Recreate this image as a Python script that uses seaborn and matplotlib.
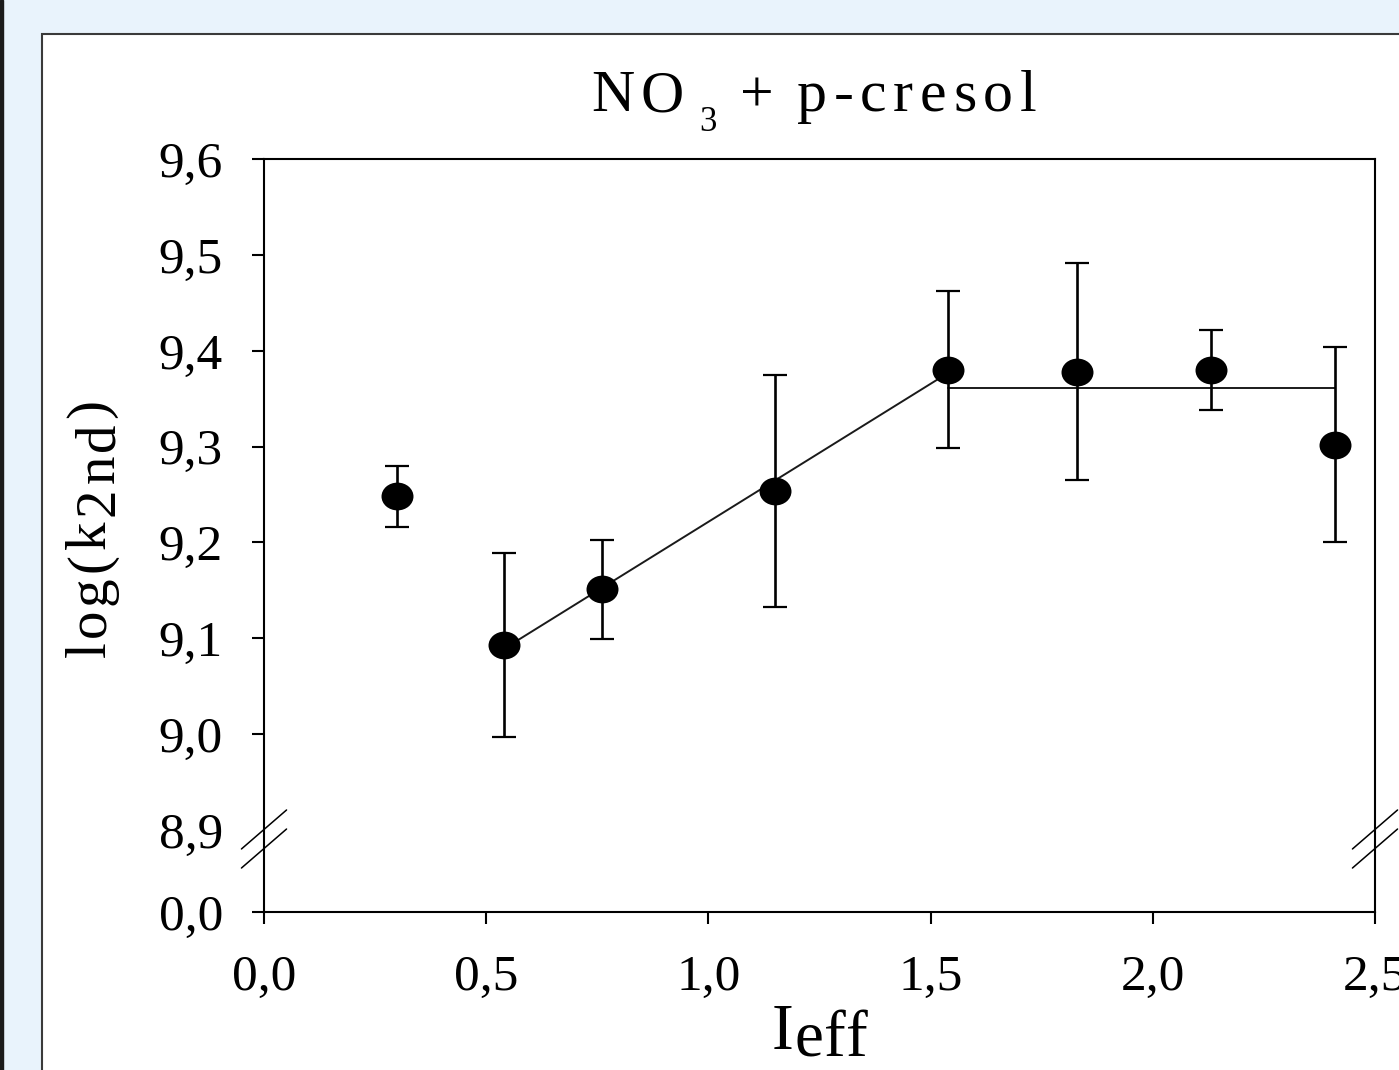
import numpy as np
import pandas as pd
import seaborn as sns
import matplotlib.pyplot as plt
from matplotlib.path import Path
from matplotlib.transforms import Affine2D
from matplotlib.patches import Rectangle
from matplotlib.ticker import FuncFormatter

# measured values (I_eff, log k2nd, error)
ieff = [0.30, 0.54, 0.76, 1.15, 1.54, 1.83, 2.13, 2.41]
logk = [9.248, 9.093, 9.151, 9.254, 9.380, 9.378, 9.380, 9.302]
err = [0.032, 0.096, 0.052, 0.121, 0.082, 0.113, 0.042, 0.102]

# the two fitted segments
fit1_x = [0.54, 1.54]
fit1_y = [9.089, 9.377]
fit2_x = [1.54, 2.41]
fit2_y = [9.361, 9.361]

xticks = [0.0, 0.5, 1.0, 1.5, 2.0, 2.5]
yticks = [0.0, 8.9, 9.0, 9.1, 9.2, 9.3, 9.4, 9.5, 9.6]

W, H = 1399, 1070
GAP = 0.0856  # room given to the 0 .. 8.9 stretch of the broken axis

sns.set_theme(style='ticks')
plt.rcParams['font.family'] = ['Liberation Serif', 'DejaVu Serif']

df = pd.DataFrame({'ieff': ieff, 'logk': logk, 'err': err})


def fwd(y):
    y = np.asarray(y, dtype=float)
    return np.where(y >= 8.9, y - 8.9 + GAP, y * GAP / 8.9)


def inv(t):
    t = np.asarray(t, dtype=float)
    return np.where(t >= GAP, t - GAP + 8.9, t * 8.9 / GAP)


fig = plt.figure(figsize=(W / 100, H / 100), dpi=100, facecolor='#e9f3fc')
fig.add_artist(Rectangle((0, 0), 3 / W, 1, transform=fig.transFigure,
                         color='#1b1b1b', zorder=-2))
fig.add_artist(Rectangle((42 / W, -0.1), 1, (H - 34) / H + 0.1,
                         transform=fig.transFigure, facecolor='white',
                         edgecolor='#3a3a3a', lw=1.5, zorder=-1))

ax = fig.add_axes([264 / W, 1 - 912 / H, (1375 - 264) / W, (912 - 159) / H])

sns.lineplot(x=fit1_x, y=fit1_y, ax=ax, color='#1a1a1a', lw=1.4, zorder=2)
sns.lineplot(x=fit2_x, y=fit2_y, ax=ax, color='#1a1a1a', lw=1.4, zorder=2)
ax.errorbar(df['ieff'], df['logk'], yerr=df['err'], fmt='none', ecolor='black',
            elinewidth=1.9, capsize=8.6, capthick=1.6, zorder=3)

ellipse = Affine2D().scale(1.15, 1.0).transform_path(Path.unit_circle())
sns.scatterplot(data=df, x='ieff', y='logk', ax=ax, marker=ellipse, s=530,
                color='black', edgecolor='black', linewidth=0, zorder=4)

ax.set_yscale('function', functions=(fwd, inv))
ax.set_xlim(0, 2.5)
ax.set_ylim(0, 9.6)
ax.set_xticks(xticks)
ax.set_yticks(yticks)
comma = FuncFormatter(lambda v, p: f'{v:.1f}'.replace('.', ','))
ax.xaxis.set_major_formatter(comma)
ax.yaxis.set_major_formatter(comma)
ax.set_xlabel('')
ax.set_ylabel('')

for s in ax.spines.values():
    s.set_linewidth(1.5)
    s.set_color('black')
ax.tick_params(direction='out', length=8.6, width=1.5, colors='black',
               labelsize=37)
ax.tick_params(axis='y', pad=21)
ax.tick_params(axis='x', pad=22)
ax.yaxis.get_major_ticks()[1].tick1line.set_visible(False)

# axis break marks on both spines
for xc in (0, 1):
    for y0, y1 in [(0.0837, 0.1355), (0.0584, 0.1102)]:
        ax.plot([xc - 0.0203, xc + 0.0203], [y0, y1], transform=ax.transAxes,
                color='black', lw=1.1, clip_on=False, zorder=5)


def put_text(runs, x0, y0, track, vertical=False):
    # chain single glyphs so the letter spacing and the lowered parts match
    prev = None
    for text, size, drop, lead in runs:
        gap = lead
        for ch in text:
            if ch == ' ':
                gap += 0.25 * size
                continue
            if prev is None:
                xy = (x0 + drop, y0) if vertical else (x0, y0 - drop)
                coords = 'figure pixels'
                off = (0, 0)
            elif vertical:
                xy = (x0 + drop, 1)
                coords = ('figure pixels', prev)
                off = (0, track + gap)
            else:
                xy = (1, y0 - drop)
                coords = (prev, 'figure pixels')
                off = (track + gap, 0)
            prev = ax.annotate(ch, xy=xy, xycoords=coords, xytext=off,
                               textcoords='offset points', fontsize=size,
                               color='black', ha='left', va='baseline',
                               rotation=90 if vertical else 0,
                               rotation_mode='anchor', annotation_clip=False)
            gap = 0


put_text([('NO', 43, 0, 0), ('3', 25, 20, 6),
          ('+', 43, 0, 12), ('p-cresol', 43, 0, 12)],
         591, H - 111, 4.8)
put_text([('log(k', 41, 0, 0), ('2nd', 41, 9, 0), (')', 41, 0, 0)],
         105, H - 657, 3, vertical=True)
put_text([('I', 47, 0, 0), ('eff', 47, 7, 0)], 772, H - 1049, 0.5)

fig.savefig('out.png', dpi=100, facecolor=fig.get_facecolor())
